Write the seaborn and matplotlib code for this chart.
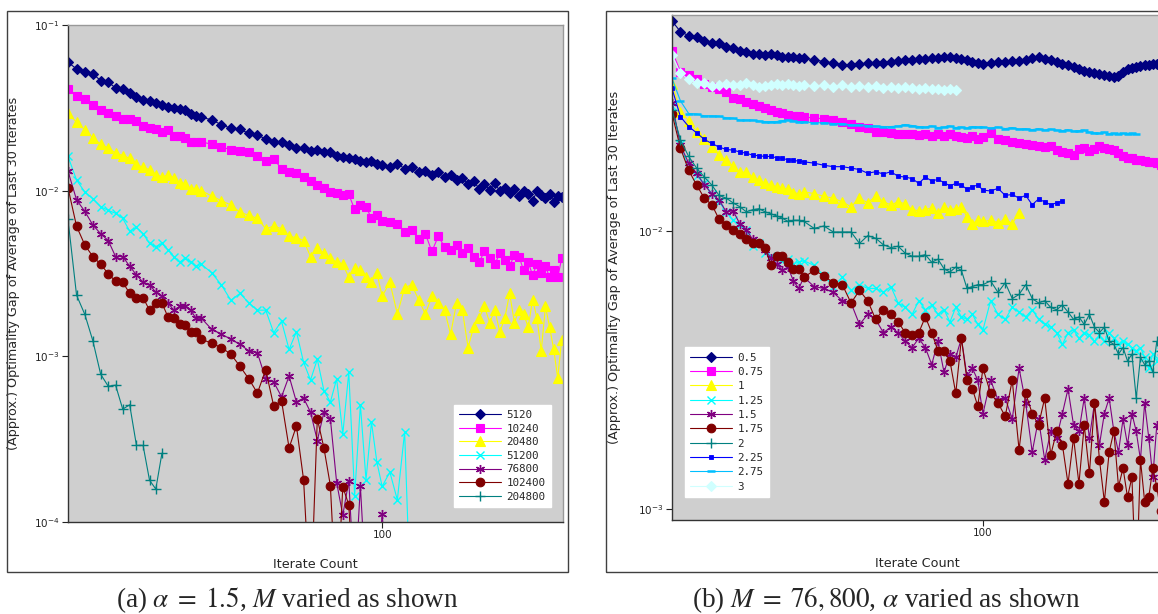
import matplotlib

matplotlib.use("Agg")
import matplotlib.pyplot as plt
import seaborn as sns
from matplotlib.patches import Rectangle
from matplotlib.ticker import NullLocator

# iterate grid shared by every series (each series uses the first len(y) entries)
ITERS = list(range(30, 50)) + list(range(50, 100, 2)) + list(range(100, 200, 3))

# ---- panel (a): alpha = 1.5, M varied ----
labels_a = ["5120", "10240", "20480", "51200", "76800", "102400", "204800"]

gap_5120 = [
    0.0596, 0.0543, 0.0519, 0.0507, 0.0462, 0.0452, 0.0417, 0.0413, 0.0388, 0.0370,
    0.0353, 0.0350, 0.0337, 0.0330, 0.0318, 0.0316, 0.0310, 0.0307, 0.0292, 0.0282,
    0.0277, 0.0268, 0.0250, 0.0238, 0.0234, 0.0222, 0.0218, 0.0204, 0.0197, 0.0196,
    0.0188, 0.0181, 0.0180, 0.0173, 0.0175, 0.0170, 0.0172, 0.0163, 0.0160, 0.0158,
    0.0155, 0.0152, 0.0148, 0.0150, 0.0145,
    0.0143, 0.0138, 0.0145, 0.0136, 0.0139, 0.0130, 0.0132, 0.0125, 0.0129, 0.0121,
    0.0124, 0.0116, 0.0119, 0.0110, 0.0114, 0.0103, 0.0109, 0.0101, 0.0112, 0.0099,
    0.0104, 0.0097, 0.0102, 0.0093, 0.0100, 0.0096, 0.0087, 0.0099, 0.0094, 0.0090,
    0.0096, 0.0086, 0.0093, 0.0092,
]
gap_10240 = [
    0.0412, 0.0375, 0.0358, 0.0327, 0.0308, 0.0294, 0.0284, 0.0272, 0.0272, 0.0264,
    0.0247, 0.0239, 0.0237, 0.0226, 0.0233, 0.0214, 0.0214, 0.0208, 0.0198, 0.0196,
    0.0198, 0.0190, 0.0183, 0.0177, 0.0174, 0.0170, 0.0161, 0.0150, 0.0155, 0.0136,
    0.0130, 0.0128, 0.0121, 0.0114, 0.0108, 0.0104, 0.0098, 0.0097, 0.0094, 0.0095,
    0.0077, 0.0082, 0.0080, 0.0068, 0.0071,
    0.0066, 0.0065, 0.0063, 0.0056, 0.0058, 0.0051, 0.0055, 0.0043, 0.0053, 0.0046,
    0.0044, 0.0047, 0.0042, 0.0045, 0.0040, 0.0037, 0.0043, 0.0039, 0.0036, 0.0042,
    0.0038, 0.0035, 0.0041, 0.0040, 0.0033, 0.0037, 0.0031, 0.0036, 0.0032, 0.0035,
    0.0030, 0.0033, 0.0030, 0.0039,
]
gap_20480 = [
    0.0294, 0.0259, 0.0233, 0.0208, 0.0191, 0.0181, 0.0169, 0.0163, 0.0157, 0.0144,
    0.0138, 0.0134, 0.0125, 0.0121, 0.0124, 0.0120, 0.0111, 0.0110, 0.0102, 0.0102,
    0.0100, 0.0093, 0.0087, 0.0082, 0.0074, 0.0071, 0.0068, 0.0059, 0.0061, 0.0059,
    0.0053, 0.0052, 0.0050, 0.0040, 0.0045, 0.0042, 0.0039, 0.0037, 0.0036, 0.0030,
    0.0034, 0.0033, 0.0030, 0.0028, 0.0032,
    0.0023, 0.0028, 0.0018, 0.0026, 0.0027, 0.0022, 0.0018, 0.0023, 0.0021, 0.0019,
    0.00136, 0.0021, 0.0019, 0.00113, 0.0015, 0.0017, 0.0020, 0.0016, 0.0019, 0.0014,
    0.0017, 0.0024, 0.0016, 0.0019, 0.0018, 0.0015, 0.0022, 0.0017, 0.00108, 0.0020,
    0.0015, 0.0011, 0.00074, 0.00126,
]
gap_51200 = [
    0.0161, 0.0116, 0.0098, 0.00895, 0.0080, 0.0076, 0.0073, 0.0068, 0.0057, 0.0060,
    0.0055, 0.0048, 0.0046, 0.0048, 0.0044, 0.0040, 0.0037, 0.0039, 0.0037, 0.0035,
    0.0036, 0.0032, 0.0027, 0.00218, 0.0024, 0.0021, 0.0019, 0.0019, 0.00139, 0.00163,
    0.0011, 0.00141, 0.00092, 0.00072, 0.00096, 0.00062, 0.00053, 0.00073, 0.00034, 0.0008,
    0.000144, 0.00051, 0.00018, 0.0004, 0.00023,
    0.000164, 0.0002, 0.000136, 0.00035, 0.00002,
]
gap_76800 = [
    0.0131, 0.0088, 0.0075, 0.0062, 0.0055, 0.0050, 0.0040, 0.0040, 0.0035, 0.0031,
    0.0028, 0.0027, 0.00244, 0.0023, 0.0021, 0.0019, 0.0020, 0.0020, 0.0019, 0.0017,
    0.0017, 0.00146, 0.00136, 0.00127, 0.00118, 0.00108, 0.00105, 0.00073, 0.0007, 0.00057,
    0.00076, 0.00053, 0.00056, 0.00046, 0.00031, 0.00046, 0.00042, 0.000173, 0.00011, 0.000177,
    0.00004, 0.000165, 0.00004, 0.00003, 0.00004,
    0.000112, 0.00003,
]
gap_102400 = [
    0.0104, 0.0061, 0.0047, 0.0040, 0.0036, 0.00315, 0.00284, 0.0028, 0.0024, 0.00226,
    0.00226, 0.0019, 0.0021, 0.0021, 0.00173, 0.0017, 0.00157, 0.00155, 0.0014, 0.0014,
    0.00127, 0.0012, 0.00113, 0.00103, 0.00087, 0.00073, 0.0006, 0.00083, 0.0005, 0.00054,
    0.00028, 0.00038, 0.00018, 0.00003, 0.00042, 0.00028, 0.000166, 0.00003, 0.000163, 0.000127,
    0.00003,
]
gap_204800 = [
    0.0067, 0.00234, 0.00179, 0.00124, 0.00078, 0.00066, 0.00067, 0.00048, 0.00051, 0.00029,
    0.00029, 0.000179, 0.000158, 0.00026,
]

# ---- panel (b): M = 76,800, alpha varied ----
labels_b = ["0.5", "0.75", "1", "1.25", "1.5", "1.75", "2", "2.25", "2.75", "3"]

gap_a050 = [
    0.0568, 0.0520, 0.0503, 0.0496, 0.0483, 0.0472, 0.0472, 0.0459, 0.0453, 0.0444,
    0.0441, 0.0431, 0.0431, 0.0430, 0.0431, 0.0428, 0.0423, 0.0421, 0.0420, 0.0417,
    0.0417, 0.0412, 0.0406, 0.0401, 0.0395, 0.0393, 0.0399, 0.0400, 0.0400, 0.0402,
    0.0405, 0.0408, 0.0410, 0.0411, 0.0413, 0.0415, 0.0417, 0.0419, 0.0421, 0.0423,
    0.0419, 0.0414, 0.0410, 0.0404, 0.0400,
    0.0398, 0.0400, 0.0403, 0.0405, 0.0407, 0.0409, 0.0411, 0.0418, 0.0423, 0.0416,
    0.0411, 0.0404, 0.0398, 0.0393, 0.0389, 0.0382, 0.0375, 0.0371, 0.0368, 0.0366,
    0.0363, 0.0361, 0.0358, 0.0360, 0.0372, 0.0381, 0.0385, 0.0389, 0.0391, 0.0393,
    0.0395, 0.0397, 0.0398, 0.0400,
]
gap_a075 = [
    0.0444, 0.0373, 0.0363, 0.0350, 0.0337, 0.0328, 0.0323, 0.0315, 0.0300, 0.0298,
    0.0291, 0.0286, 0.0281, 0.0276, 0.0272, 0.0268, 0.0265, 0.0261, 0.0259, 0.0258,
    0.0257, 0.0254, 0.0253, 0.0250, 0.0246, 0.0243, 0.0237, 0.0234, 0.0227, 0.0226,
    0.0224, 0.0223, 0.0222, 0.0222, 0.0221, 0.0222, 0.0220, 0.0222, 0.0219, 0.0223,
    0.0220, 0.0218, 0.0216, 0.0220, 0.0214,
    0.0218, 0.0224, 0.0214, 0.0212, 0.0209, 0.0207, 0.0205, 0.0203, 0.0202, 0.0200,
    0.0201, 0.0195, 0.0192, 0.0190, 0.0187, 0.0196, 0.0198, 0.0194, 0.0196, 0.0201,
    0.0199, 0.0197, 0.0195, 0.0190, 0.0186, 0.0183, 0.0182, 0.0180, 0.0179, 0.0178,
    0.0177, 0.0176, 0.0175, 0.0173,
]
gap_a100 = [
    0.0337, 0.0268, 0.0249, 0.0227, 0.0213, 0.0200, 0.0187, 0.0179, 0.0171, 0.0163,
    0.0162, 0.0156, 0.0152, 0.0148, 0.0146, 0.0144, 0.0142, 0.0141, 0.0137, 0.0136,
    0.0138, 0.0136, 0.0133, 0.0131, 0.0127, 0.0122, 0.0131, 0.0126, 0.0133, 0.0127,
    0.0124, 0.0127, 0.0125, 0.0119, 0.0118, 0.0119, 0.0121, 0.0116, 0.0122, 0.0119,
    0.0120, 0.0122, 0.0112, 0.0106, 0.0109,
    0.0108, 0.0109, 0.0107, 0.0110, 0.0106, 0.0116,
]
gap_a125 = [
    0.0280, 0.0205, 0.0168, 0.0158, 0.0148, 0.0136, 0.0127, 0.0117, 0.0109, 0.0105,
    0.0101, 0.0088, 0.0090, 0.0083, 0.0081, 0.0080, 0.0078, 0.0079, 0.0076, 0.0077,
    0.0078, 0.0075, 0.0069, 0.0063, 0.0068, 0.0061, 0.0064, 0.0062, 0.0062, 0.0060,
    0.0063, 0.0055, 0.0053, 0.0050, 0.0056, 0.0052, 0.0054, 0.0050, 0.0052, 0.0047,
    0.0053, 0.0049, 0.0048, 0.0050, 0.0046,
    0.0044, 0.0056, 0.0050, 0.0048, 0.0053, 0.0051, 0.0049, 0.0052, 0.0048, 0.0046,
    0.0045, 0.0043, 0.0039, 0.0043, 0.0044, 0.0041, 0.0043, 0.0042, 0.0040, 0.0042,
    0.0040, 0.0043, 0.0041, 0.0039, 0.0040, 0.0039, 0.0038, 0.0037, 0.0038, 0.0035,
    0.0032, 0.0036, 0.0034, 0.0037,
]
gap_a150 = [
    0.0288, 0.0203, 0.0175, 0.0161, 0.0146, 0.0136, 0.0129, 0.0117, 0.0118, 0.0106,
    0.0101, 0.0093, 0.0090, 0.0085, 0.0080, 0.0076, 0.0072, 0.0074, 0.0066, 0.0062,
    0.0068, 0.0063, 0.0062, 0.0060, 0.0056, 0.0055, 0.0046, 0.0050, 0.0048, 0.0043,
    0.0045, 0.0043, 0.0040, 0.0038, 0.0041, 0.0038, 0.0033, 0.0040, 0.0031, 0.0036,
    0.0035, 0.0041, 0.0030, 0.0032, 0.0029,
    0.0022, 0.0029, 0.00246, 0.0025, 0.0021, 0.0032, 0.0024, 0.0016, 0.0021, 0.0015,
    0.0019, 0.0018, 0.0022, 0.0027, 0.0020, 0.0019, 0.0025, 0.0018, 0.0024, 0.0017,
    0.0022, 0.0025, 0.0019, 0.0016, 0.0021, 0.0017, 0.0022, 0.0019, 0.0015, 0.0024,
    0.0018, 0.0013, 0.0020, 0.0019,
]
gap_a175 = [
    0.0264, 0.0198, 0.0165, 0.0146, 0.0131, 0.0124, 0.0110, 0.0105, 0.0101, 0.0097,
    0.0093, 0.0090, 0.0090, 0.0087, 0.0075, 0.0081, 0.0081, 0.0077, 0.0073, 0.0073,
    0.0068, 0.0072, 0.0069, 0.0065, 0.0064, 0.0055, 0.0061, 0.0056, 0.0048, 0.0052,
    0.0050, 0.0047, 0.0043, 0.0042, 0.0043, 0.0049, 0.0043, 0.0037, 0.0037, 0.0034,
    0.0026, 0.0041, 0.0029, 0.0027, 0.00234,
    0.0032, 0.0026, 0.0024, 0.00215, 0.0029, 0.00163, 0.0026, 0.0022, 0.0020, 0.0025,
    0.00156, 0.0019, 0.0017, 0.00123, 0.0018, 0.00123, 0.0020, 0.00134, 0.0024, 0.0015,
    0.00106, 0.0016, 0.0019, 0.0012, 0.0014, 0.0011, 0.0013, 0.0005, 0.0015, 0.00106,
    0.0011, 0.0014, 0.0012, 0.00098,
]
gap_a200 = [
    0.0272, 0.0212, 0.0185, 0.0168, 0.0156, 0.0146, 0.0134, 0.0131, 0.0126, 0.0122,
    0.0117, 0.0119, 0.0120, 0.0117, 0.0115, 0.0113, 0.0111, 0.0108, 0.0109, 0.0109,
    0.0108, 0.0102, 0.0104, 0.0099, 0.0099, 0.0099, 0.0090, 0.0096, 0.0094, 0.0089,
    0.0087, 0.0088, 0.0083, 0.0081, 0.0081, 0.0082, 0.0077, 0.0079, 0.0073, 0.0071,
    0.0074, 0.0072, 0.0062, 0.0063, 0.0064,
    0.0064, 0.0066, 0.0060, 0.0065, 0.0057, 0.0059, 0.0064, 0.0057, 0.0055, 0.0056,
    0.0053, 0.0052, 0.0054, 0.0051, 0.0048, 0.0049, 0.0046, 0.0050, 0.0045, 0.0043,
    0.0045, 0.0040, 0.0039, 0.0036, 0.0038, 0.0034, 0.0036, 0.0025, 0.0035, 0.0033,
    0.0034, 0.0031, 0.0040, 0.0037,
]
gap_a225 = [
    0.0325, 0.0257, 0.0237, 0.0225, 0.0213, 0.0206, 0.0200, 0.0196, 0.0195, 0.0192,
    0.0190, 0.0187, 0.0186, 0.0185, 0.0185, 0.0183, 0.0182, 0.0180, 0.0179, 0.0178,
    0.0177, 0.0175, 0.0172, 0.0170, 0.0170, 0.0168, 0.0166, 0.0161, 0.0163, 0.0160,
    0.0163, 0.0157, 0.0156, 0.0154, 0.0148, 0.0156, 0.0151, 0.0153, 0.0149, 0.0145,
    0.0148, 0.0146, 0.0141, 0.0144, 0.0146,
    0.0140, 0.0139, 0.0142, 0.0134, 0.0135, 0.0131, 0.0134, 0.0124, 0.0130, 0.0127,
    0.0124, 0.0126, 0.0128,
]
gap_a275 = [
    0.0353, 0.0293, 0.0264, 0.0263, 0.0259, 0.0259, 0.0258, 0.0255, 0.0254, 0.0250,
    0.0250, 0.0250, 0.0248, 0.0247, 0.0247, 0.0247, 0.0249, 0.0250, 0.0248, 0.0247,
    0.0247, 0.0244, 0.0245, 0.0243, 0.0243, 0.0240, 0.0240, 0.0239, 0.0238, 0.0237,
    0.0237, 0.0238, 0.0241, 0.0239, 0.0237, 0.0236, 0.0238, 0.0235, 0.0236, 0.0238,
    0.0235, 0.0236, 0.0234, 0.0237, 0.0236,
    0.0236, 0.0234, 0.0236, 0.0233, 0.0235, 0.0232, 0.0233, 0.0231, 0.0233, 0.0230,
    0.0232, 0.0230, 0.0229, 0.0231, 0.0228, 0.0229, 0.0230, 0.0226, 0.0225, 0.0224,
    0.0226, 0.0223, 0.0224, 0.0222, 0.0224, 0.0223, 0.0224, 0.0223,
]
gap_a300 = [
    0.0428, 0.0368, 0.0350, 0.0341, 0.0339, 0.0332, 0.0334, 0.0338, 0.0334, 0.0335,
    0.0341, 0.0333, 0.0330, 0.0332, 0.0333, 0.0336, 0.0333, 0.0338, 0.0334, 0.0331,
    0.0334, 0.0331, 0.0335, 0.0330, 0.0333, 0.0328, 0.0332, 0.0329, 0.0331, 0.0327,
    0.0330, 0.0326, 0.0328, 0.0325, 0.0324, 0.0326, 0.0323, 0.0324, 0.0322, 0.0323,
    0.0320,
]

series_a = [gap_5120, gap_10240, gap_20480, gap_51200, gap_76800, gap_102400, gap_204800]
series_b = [gap_a050, gap_a075, gap_a100, gap_a125, gap_a150, gap_a175, gap_a200,
            gap_a225, gap_a275, gap_a300]

# color, marker, markersize, markeredgewidth
styles = [
    ("#000080", "D", 4.6, 0.8),
    ("#ff00ff", "s", 6.2, 0.8),
    ("#ffff00", "^", 6.8, 0.8),
    ("#00ffff", "x", 6.2, 1.0),
    ("#800080", (6, 2, 0), 6.5, 1.0),
    ("#800000", "o", 6.2, 0.8),
    ("#008080", "+", 7.2, 1.0),
    ("#0000ff", "s", 2.4, 0.6),
    ("#00bfff", "_", 6.0, 1.8),
    ("#d0ffff", "D", 4.6, 0.8),
]

sns.set_style("ticks")
plt.rcParams["font.family"] = ["DejaVu Sans"]

W, H = 1158, 614
fig = plt.figure(figsize=(W / 100, H / 100), dpi=100)
fig.patch.set_facecolor("white")

# outer frames around each sub-figure
for x0, w in [(6.5, 561.5), (606.4, 561.5)]:
    fig.patches.append(Rectangle((x0 / W, 1 - 572 / H), w / W, (572 - 10.7) / H,
                                 transform=fig.transFigure, fill=False,
                                 edgecolor="#404040", linewidth=1.0, zorder=0))

ax_a = fig.add_axes([68 / W, 1 - 522 / H, 495 / W, 497 / H])
ax_b = fig.add_axes([672 / W, 1 - 520 / H, 490 / W, 505 / H])


def draw_panel(ax, series, labels, ylim, yticks):
    ax.set_xscale("log")
    ax.set_yscale("log")
    ax.set_facecolor("#cfcfcf")
    for ys, lab, (c, m, ms, mew) in zip(series, labels, styles):
        sns.lineplot(x=ITERS[:len(ys)], y=ys, ax=ax, color=c, marker=m,
                     markersize=ms, markeredgewidth=mew, markeredgecolor=c,
                     linewidth=0.8, label=lab, estimator=None, sort=False)
    ax.set_xlim(30, 200)
    ax.set_ylim(*ylim)
    ax.set_xticks([100])
    ax.set_xticklabels(["100"])
    ax.set_yticks(yticks)
    ax.xaxis.set_minor_locator(NullLocator())
    ax.yaxis.set_minor_locator(NullLocator())
    ax.tick_params(axis="both", direction="out", length=4, width=0.8,
                   labelsize=7.5, colors="#222222", pad=2)
    for side in ["left", "bottom"]:
        ax.spines[side].set_color("#333333")
        ax.spines[side].set_linewidth(1.0)
    for side in ["top", "right"]:
        ax.spines[side].set_visible(True)
        ax.spines[side].set_color("#999999")
        ax.spines[side].set_linewidth(1.0)
    ax.set_xlabel("Iterate Count", fontsize=9.2)
    ax.set_ylabel("(Approx.) Optimality Gap of Average of Last 30 Iterates", fontsize=9.2)


draw_panel(ax_a, series_a, labels_a, (1e-4, 1e-1), [1e-4, 1e-3, 1e-2, 1e-1])
draw_panel(ax_b, series_b, labels_b, (9.11e-4, 5.97e-2), [1e-3, 1e-2])

ax_a.xaxis.set_label_coords(0.5, -0.072)
ax_a.yaxis.set_label_coords(-0.097, 0.5)
ax_b.xaxis.set_label_coords(0.5, -0.073)
ax_b.yaxis.set_label_coords(-0.104, 0.5)

leg_kw = dict(prop={"family": "DejaVu Sans Mono", "size": 7.8}, handlelength=3.8,
              handletextpad=0.55, borderpad=0.5, frameon=True,
              fancybox=False, framealpha=1, edgecolor="white", facecolor="white",
              borderaxespad=0)
ax_a.legend(loc="lower right", bbox_to_anchor=(1 - 12 / 495, 15 / 497),
            labelspacing=0.33, **leg_kw)
ax_b.legend(loc="lower left", bbox_to_anchor=(13 / 490, 23 / 505),
            labelspacing=0.4, **leg_kw)

fig.text(287 / W, 1 - 600 / H, r"(a) $\alpha\;=\;1.5$, $M$ varied as shown",
         ha="center", va="center", fontsize=19.5, family="Liberation Serif",
         math_fontfamily="stix")
fig.text(886 / W, 1 - 600 / H, r"(b) $M\;=\;76,800$, $\alpha$ varied as shown",
         ha="center", va="center", fontsize=19.5, family="Liberation Serif",
         math_fontfamily="stix")

fig.savefig("out.png", dpi=100, facecolor="white")
